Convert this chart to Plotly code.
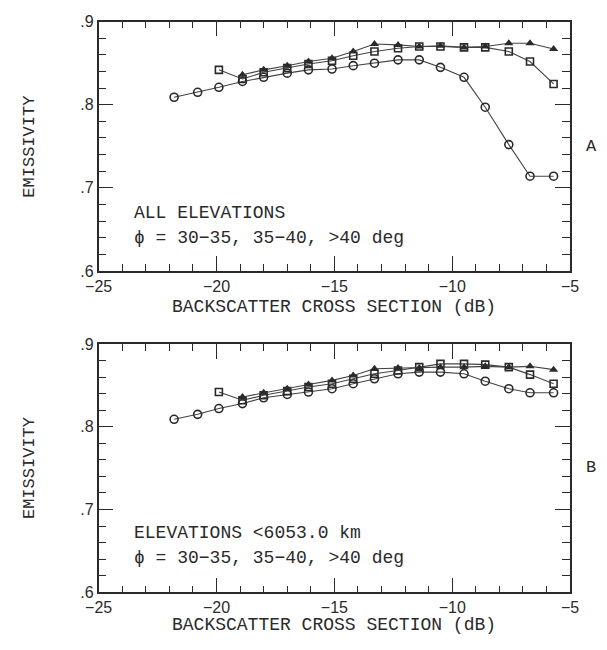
import plotly.graph_objects as go

# ---- data ----
backscatter_db = [-21.8, -20.8, -19.9, -18.9, -18.0, -17.0, -16.1, -15.1, -14.2,
                  -13.3, -12.3, -11.4, -10.5, -9.5, -8.6, -7.6, -6.7, -5.7]

# Panel A: all elevations
a_phi_30_35 = [0.809, 0.815, 0.821, 0.828, 0.833, 0.838, 0.842, 0.843, 0.847,
               0.850, 0.854, 0.854, 0.845, 0.833, 0.797, 0.752, 0.714, 0.714]
a_phi_35_40 = [0.842, 0.831, 0.839, 0.844, 0.849, 0.853, 0.859, 0.864, 0.868,
               0.870, 0.870, 0.869, 0.869, 0.864, 0.852, 0.825]
a_phi_gt40 = [0.836, 0.842, 0.847, 0.852, 0.856, 0.864, 0.873, 0.872, 0.870,
              0.871, 0.869, 0.870, 0.874, 0.874, 0.867]

# Panel B: elevations < 6053.0 km
b_phi_30_35 = [0.809, 0.815, 0.822, 0.828, 0.835, 0.839, 0.842, 0.846, 0.852,
               0.858, 0.864, 0.866, 0.866, 0.864, 0.855, 0.846, 0.841, 0.841]
b_phi_35_40 = [0.842, 0.832, 0.838, 0.843, 0.848, 0.852, 0.858, 0.864, 0.868,
               0.872, 0.876, 0.876, 0.875, 0.872, 0.863, 0.852]
b_phi_gt40 = [0.836, 0.841, 0.846, 0.851, 0.856, 0.862, 0.870, 0.871, 0.871,
              0.872, 0.872, 0.873, 0.872, 0.873, 0.869]

x_tick_vals = [-25, -20, -15, -10, -5]
x_tick_text = ["\u221225", "\u221220", "\u221215", "\u221210", "\u22125"]
y_tick_vals = [0.6, 0.7, 0.8, 0.9]
y_tick_text = [".6", ".7", ".8", ".9"]

panel_labels = ["A", "B"]
panel_line1 = ["ALL ELEVATIONS", "ELEVATIONS <6053.0 km"]
panel_line2 = "\u03d5 = 30\u221235, 35\u221240, >40 deg"
x_title = "BACKSCATTER CROSS SECTION (dB)"
y_title = "EMISSIVITY"

INK = "#2a2a2a"
W, H = 607, 650
mono = "Liberation Mono"
sans = "Liberation Sans"

fig = go.Figure()

panels = [
    (a_phi_30_35, a_phi_35_40, a_phi_gt40, "x", "y"),
    (b_phi_30_35, b_phi_35_40, b_phi_gt40, "x2", "y2"),
]
for c, s, t, xa, ya in panels:
    fig.add_trace(go.Scatter(x=backscatter_db, y=c, xaxis=xa, yaxis=ya, mode="lines+markers",
                             line=dict(color="#444", width=1.1),
                             marker=dict(symbol="circle-open", size=8, color=INK, line=dict(width=1.6))))
    fig.add_trace(go.Scatter(x=backscatter_db[2:], y=s, xaxis=xa, yaxis=ya, mode="lines+markers",
                             line=dict(color="#444", width=1.1),
                             marker=dict(symbol="square-open", size=7, color=INK, line=dict(width=1.6))))
    fig.add_trace(go.Scatter(x=backscatter_db[3:], y=t, xaxis=xa, yaxis=ya, mode="lines+markers",
                             line=dict(color="#444", width=1.1),
                             marker=dict(symbol="triangle-up", size=8, color=INK)))

x0, x1 = 88 / W, 578 / W
dom_top = [1 - 270 / H, 1 - 14 / H]
dom_bot = [1 - 600 / H, 1 - 345 / H]

def xaxis_cfg(anchor):
    return dict(domain=[x0, x1], range=[-25, -5], anchor=anchor,
                tickvals=x_tick_vals, ticktext=x_tick_text,
                ticks="inside", ticklen=15, tickwidth=1.3, tickcolor=INK,
                minor=dict(dtick=1, ticks="inside", ticklen=7, tickwidth=1.1, tickcolor=INK),
                showline=True, linecolor=INK, linewidth=1.6, mirror="ticks",
                showgrid=False, zeroline=False,
                tickfont=dict(family=sans, size=16, color=INK))

def yaxis_cfg(anchor, dom):
    return dict(domain=dom, range=[0.6, 0.9], anchor=anchor,
                tickvals=y_tick_vals, ticktext=y_tick_text,
                ticks="inside", ticklen=15, tickwidth=1.3, tickcolor=INK,
                minor=dict(dtick=0.02, ticks="inside", ticklen=8, tickwidth=1.1, tickcolor=INK),
                showline=True, linecolor=INK, linewidth=1.6, mirror="ticks",
                showgrid=False, zeroline=False,
                tickfont=dict(family=sans, size=16, color=INK))

fig.update_layout(
    width=W, height=H, margin=dict(l=0, r=0, t=0, b=0),
    paper_bgcolor="white", plot_bgcolor="white", showlegend=False,
    xaxis=xaxis_cfg("y"), yaxis=yaxis_cfg("x", dom_top),
    xaxis2=xaxis_cfg("y2"), yaxis2=yaxis_cfg("x2", dom_bot),
)

def txt(xpx, ypx, text, size=18, xanchor="center", angle=0):
    return dict(x=xpx / W, y=1 - ypx / H, xref="paper", yref="paper", text=text,
                xanchor=xanchor, yanchor="middle", textangle=angle, showarrow=False,
                font=dict(family=mono, size=size, color=INK))

annos = []
for i, (yc, xt_y, base) in enumerate([(142, 307, 210), (472, 634, 539)]):
    annos.append(txt(16, yc, y_title, size=17, angle=-90))
    annos.append(txt(600, yc, panel_labels[i], size=17))
    annos.append(txt(333, xt_y, x_title, size=18))
    annos.append(txt(123, base, panel_line1[i], size=18, xanchor="left"))
    annos.append(txt(123, base + 26, panel_line2, size=18, xanchor="left"))
fig.update_layout(annotations=annos)

fig.write_html("out.html")
